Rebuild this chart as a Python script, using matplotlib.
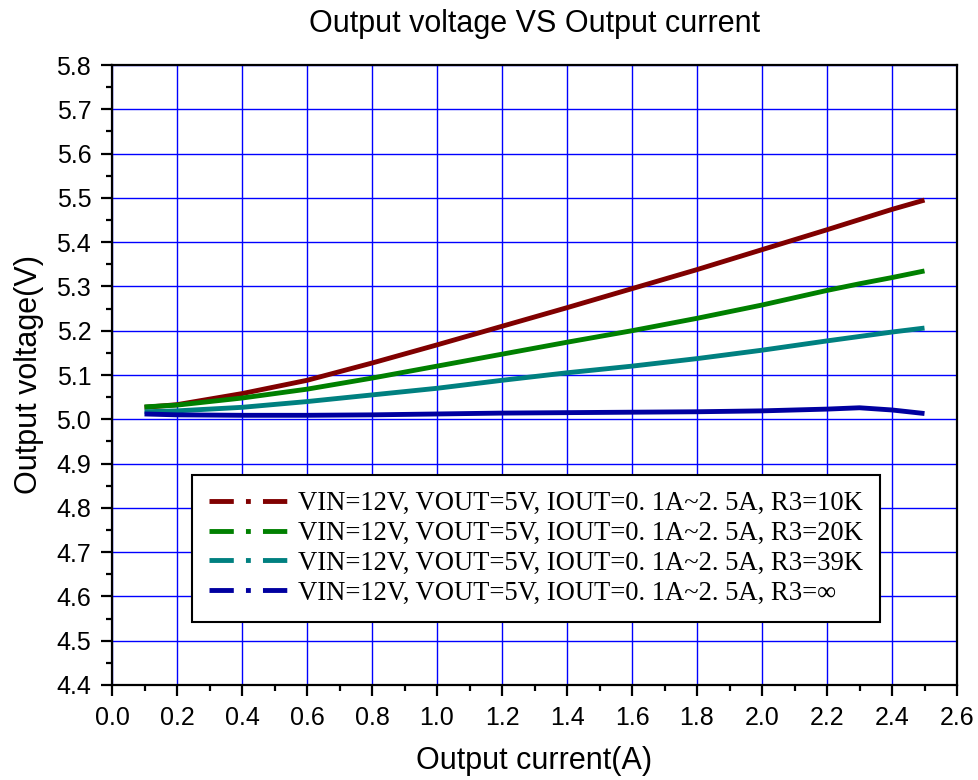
import matplotlib.pyplot as plt
from matplotlib.lines import Line2D
import numpy as np

plt.rcParams['font.family'] = ['Liberation Sans', 'DejaVu Sans']

# output current (A)
current = [0.1, 0.2, 0.4, 0.6, 0.8, 1.0, 1.2, 1.4, 1.6, 1.8, 2.0, 2.2, 2.3, 2.4, 2.5]
# output voltage (V) per R3 value
v_10k = [5.027, 5.033, 5.058, 5.088, 5.127, 5.168, 5.210, 5.252, 5.295, 5.338, 5.383, 5.428, 5.451, 5.474, 5.495]
v_20k = [5.028, 5.032, 5.048, 5.068, 5.093, 5.120, 5.147, 5.174, 5.200, 5.228, 5.258, 5.291, 5.306, 5.320, 5.335]
v_39k = [5.017, 5.019, 5.027, 5.040, 5.055, 5.070, 5.088, 5.105, 5.120, 5.137, 5.156, 5.177, 5.187, 5.197, 5.206]
v_inf = [5.012, 5.010, 5.009, 5.009, 5.010, 5.012, 5.014, 5.015, 5.016, 5.017, 5.019, 5.023, 5.026, 5.021, 5.013]

labels = ['VIN=12V, VOUT=5V, IOUT=0. 1A~2. 5A, R3=10K',
          'VIN=12V, VOUT=5V, IOUT=0. 1A~2. 5A, R3=20K',
          'VIN=12V, VOUT=5V, IOUT=0. 1A~2. 5A, R3=39K',
          'VIN=12V, VOUT=5V, IOUT=0. 1A~2. 5A, R3=∞']
colors = ['#800000', '#008000', '#008080', '#0000a0']
series = [v_10k, v_20k, v_39k, v_inf]

fig = plt.figure(figsize=(9.79, 7.8), dpi=100)
ax = fig.add_axes([112/979, 95/780, 845/979, 620/780])

handles = []
for ys, c, lab in zip(series, colors, labels):
    ax.plot(current, ys, color=c, lw=3.5, solid_capstyle='butt', zorder=3)
    handles.append(Line2D([], [], color=c, lw=3.5, linestyle=(0, (5, 2.5, 1, 2.5)), label=lab))

xt = np.arange(0, 2.61, 0.2)
yt = np.arange(4.4, 5.81, 0.1)
ax.set_xlim(0, 2.6)
ax.set_ylim(4.4, 5.8)
ax.set_xticks(xt)
ax.set_yticks(yt)
ax.set_xticks(np.arange(0.1, 2.6, 0.2), minor=True)
ax.set_yticks(np.arange(4.45, 5.8, 0.1), minor=True)
ax.set_xticklabels(['%.1f' % v for v in xt])
ax.set_yticklabels(['%.1f' % v for v in yt])
ax.tick_params(which='major', direction='out', length=8, width=1.6, labelsize=18, pad=7)
ax.tick_params(which='minor', direction='out', length=4.5, width=1.6)
ax.grid(True, which='major', color='#0000ff', lw=1, zorder=0)
for s in ax.spines.values():
    s.set_linewidth(1.6)

ax.set_xlabel('Output current(A)', fontsize=22, labelpad=12)
ax.set_ylabel('Output voltage(V)', fontsize=22, labelpad=9)
ax.set_title('Output voltage VS Output current', fontsize=22, pad=24)

leg = ax.legend(handles=handles, loc='lower left', bbox_to_anchor=(0.095, 0.1016),
                prop={'family': ['Liberation Serif', 'DejaVu Serif'], 'size': 19.2},
                handlelength=3.0, handletextpad=0.35, labelspacing=0.18,
                borderpad=0.62, borderaxespad=0, fancybox=False, framealpha=1,
                edgecolor='black')
leg.get_frame().set_linewidth(1.5)

fig.savefig('out.png', dpi=100)
